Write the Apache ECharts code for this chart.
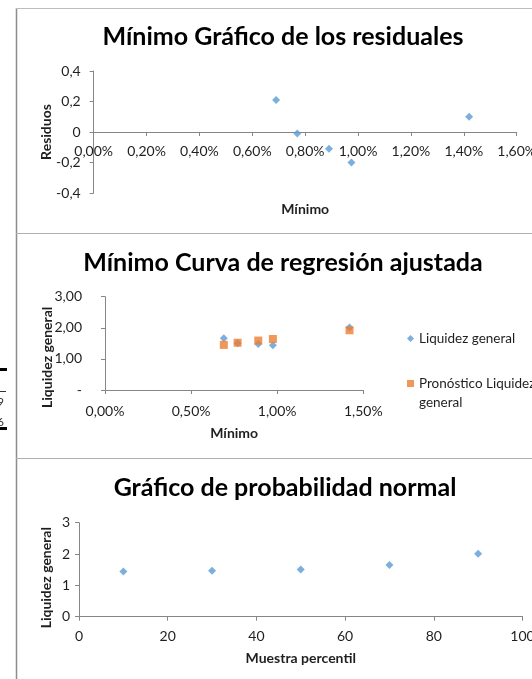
<!DOCTYPE html>
<html>
<head>
<meta charset="utf-8">
<script src="https://cdn.jsdelivr.net/npm/echarts@6/dist/echarts.min.js"></script>
<style>
  html, body { margin: 0; padding: 0; background: #ffffff; }
  #chart { width: 532px; height: 679px; }
</style>
</head>
<body>
<div id="chart"></div>
<script>
// Mínimo (%) for each observation
const minimo = [0.69, 0.77, 0.89, 0.975, 1.42];
// Liquidez general observed for each observation
const liquidez = [1.66, 1.50, 1.48, 1.44, 2.01];
// Fitted (pronóstico) Liquidez general
const pronostico = [1.45, 1.52, 1.59, 1.64, 1.92];
// Residuals
const residuos = [0.21, -0.01, -0.11, -0.20, 0.10];
// Normal probability plot: sample percentiles and sorted Liquidez general
const percentil = [10, 30, 50, 70, 90];
const liquidezOrdenada = [1.44, 1.47, 1.51, 1.65, 2.01];

const BLUE = '#5B9BD5';
const ORANGE = '#ED7D31';
const AXIS = '#868686';
const TEXT = '#1f1f1f';
const FONT = 'Lato, "Open Sans", sans-serif';

const zip = (a, b) => a.map((v, i) => [v, b[i]]);
const pct = v => v.toFixed(2).replace('.', ',') + '%';

const axisCommon = {
  splitLine: { show: false },
  axisLine: { show: true, lineStyle: { color: AXIS, width: 1 } },
  axisTick: { show: true, length: 4, lineStyle: { color: AXIS } },
  axisLabel: { color: TEXT, fontFamily: FONT, fontSize: 14 },
  nameLocation: 'middle',
  nameMoveOverlap: false,
  nameTextStyle: { color: TEXT, fontFamily: FONT, fontSize: 14, fontWeight: 'bold' }
};

function makeAxis(grid, opts) {
  return Object.assign({ type: 'value', gridIndex: grid }, JSON.parse(JSON.stringify(axisCommon)), opts);
}

const titleStyle = { color: '#000', fontFamily: FONT, fontSize: 25, fontWeight: 'bold' };

const chart = echarts.init(document.getElementById('chart'), null, { renderer: 'canvas' });

// residual plot: the horizontal axis sits at residual 0, halfway up the plot
const xa0 = makeAxis(0, { min: 0, max: 1.6, interval: 0.2, name: 'Mínimo', nameGap: 70, offset: -61 });
xa0.axisLine.onZero = false;
xa0.axisLabel.formatter = pct; xa0.axisLabel.margin = 12;
const ya0 = makeAxis(0, { min: -0.4, max: 0.4, interval: 0.2, name: 'Residuos', nameGap: 40 });
ya0.axisLabel.formatter = v => (v === 0 ? '0' : v.toFixed(1).replace('.', ','));
ya0.axisLabel.margin = 13;

const xa1 = makeAxis(1, { min: 0, max: 1.5, interval: 0.5, name: 'Mínimo', nameGap: 36 });
xa1.axisLabel.formatter = pct; xa1.axisLabel.margin = 14;
const ya1 = makeAxis(1, { min: 0, max: 3, interval: 1, name: 'Liquidez general', nameGap: 51 });
ya1.axisLabel.formatter = v => (v === 0 ? '-' : v.toFixed(2).replace('.', ','));
ya1.axisLabel.margin = 23;
// the title sits a little below the middle of the axis
ya1.nameTextStyle.padding = [0, 28, 0, 0];

const xa2 = makeAxis(2, { min: 0, max: 100, interval: 20, name: 'Muestra percentil', nameGap: 35 });
xa2.axisLabel.margin = 13;
const ya2 = makeAxis(2, { min: 0, max: 3, interval: 1, name: 'Liquidez general', nameGap: 26 });
ya2.axisLabel.margin = 9;
ya2.nameTextStyle.padding = [0, 16, 0, 0];

const legendText = { color: TEXT, fontFamily: FONT, fontSize: 13.5, lineHeight: 19 };

chart.setOption({
  animation: false,
  backgroundColor: '#ffffff',
  textStyle: { fontFamily: FONT },
  title: [
    { text: 'Mínimo Gráfico de los residuales', left: 283, top: 24, textAlign: 'center', padding: 0, textStyle: titleStyle },
    { text: 'Mínimo Curva de regresión ajustada', left: 283, top: 250, textAlign: 'center', padding: 0, textStyle: titleStyle },
    { text: 'Gráfico de probabilidad normal', left: 285, top: 475, textAlign: 'center', padding: 0, textStyle: titleStyle }
  ],
  grid: [
    { left: 93.7, top: 71, width: 423, height: 122, outerBoundsMode: 'none' },
    { left: 105, top: 296.7, width: 258.3, height: 93.3, outerBoundsMode: 'none' },
    { left: 79, top: 522.7, width: 443.5, height: 94, outerBoundsMode: 'none' }
  ],
  xAxis: [xa0, xa1, xa2],
  yAxis: [ya0, ya1, ya2],
  legend: [
    {
      data: [{ name: 'Liquidez general', icon: 'diamond' }],
      orient: 'vertical', left: 407, top: 329, padding: 0,
      itemWidth: 7, itemHeight: 7,
      textStyle: legendText
    },
    {
      data: [{ name: 'Pronóstico Liquidez general', icon: 'rect' }],
      orient: 'vertical', left: 407, top: 355, padding: 0,
      itemWidth: 7, itemHeight: 7,
      // leading blank line keeps the marker level with the first line of text
      formatter: () => ' \nPronóstico Liquidez\ngeneral',
      textStyle: legendText
    }
  ],
  series: [
    {
      type: 'scatter', xAxisIndex: 0, yAxisIndex: 0, name: 'Residuos',
      data: zip(minimo, residuos), symbol: 'diamond', symbolSize: 8,
      itemStyle: { color: BLUE }
    },
    {
      type: 'scatter', xAxisIndex: 1, yAxisIndex: 1, name: 'Liquidez general',
      data: zip(minimo, liquidez), symbol: 'diamond', symbolSize: 8,
      itemStyle: { color: BLUE }
    },
    {
      type: 'scatter', xAxisIndex: 1, yAxisIndex: 1, name: 'Pronóstico Liquidez general',
      data: zip(minimo, pronostico), symbol: 'rect', symbolSize: 8,
      itemStyle: { color: ORANGE }
    },
    {
      type: 'scatter', xAxisIndex: 2, yAxisIndex: 2, name: 'Probabilidad normal',
      data: zip(percentil, liquidezOrdenada), symbol: 'diamond', symbolSize: 8,
      itemStyle: { color: BLUE }
    }
  ],
  graphic: [
    // panel frames
    { type: 'line', shape: { x1: 16.5, y1: 8, x2: 16.5, y2: 679 }, style: { stroke: '#8c8c8c', lineWidth: 1.5 }, silent: true },
    { type: 'line', shape: { x1: 16, y1: 8.5, x2: 532, y2: 8.5 }, style: { stroke: '#bdbdbd', lineWidth: 1 }, silent: true },
    { type: 'line', shape: { x1: 16, y1: 233.5, x2: 532, y2: 233.5 }, style: { stroke: '#b0b0b0', lineWidth: 1 }, silent: true },
    { type: 'line', shape: { x1: 16, y1: 458.5, x2: 532, y2: 458.5 }, style: { stroke: '#b0b0b0', lineWidth: 1 }, silent: true },
    // fragments of the page behind the charts
    { type: 'rect', shape: { x: 0, y: 368, width: 7, height: 3 }, style: { fill: '#000' }, silent: true },
    { type: 'rect', shape: { x: 0, y: 391, width: 6, height: 1 }, style: { fill: '#333' }, silent: true },
    { type: 'text', x: -3, y: 396, style: { text: '9', fill: '#333', font: '12px Lato' }, silent: true },
    { type: 'text', x: -3, y: 416, style: { text: '6', fill: '#333', font: '12px Lato' }, silent: true },
    { type: 'rect', shape: { x: 0, y: 427, width: 7, height: 3 }, style: { fill: '#000' }, silent: true }
  ]
});
</script>
</body>
</html>
